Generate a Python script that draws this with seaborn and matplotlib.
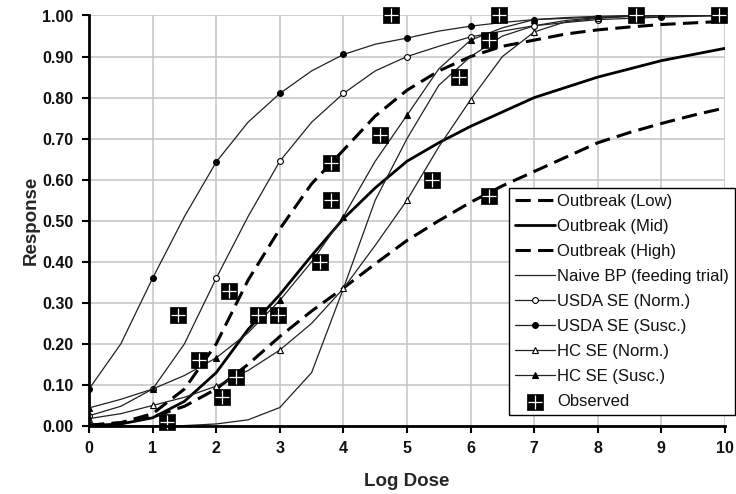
import matplotlib
matplotlib.use("Agg")
import matplotlib.pyplot as plt
import seaborn as sns
import pandas as pd

# ---- data ----
dose = [0, 0.5, 1, 1.5, 2, 2.5, 3, 3.5, 4, 4.5, 5, 5.5, 6, 6.5, 7, 7.5, 8, 8.5, 9, 9.5, 10]

outbreak_low = [0.002, 0.008, 0.03, 0.09, 0.20, 0.355, 0.48, 0.59, 0.672, 0.755, 0.818,
                0.865, 0.90, 0.925, 0.94, 0.955, 0.965, 0.972, 0.978, 0.982, 0.986]
outbreak_mid = [0.001, 0.005, 0.02, 0.06, 0.13, 0.235, 0.32, 0.415, 0.505, 0.58, 0.645,
                0.69, 0.73, 0.765, 0.80, 0.825, 0.85, 0.87, 0.89, 0.905, 0.92]
outbreak_high = [0.002, 0.008, 0.022, 0.048, 0.09, 0.15, 0.218, 0.28, 0.336, 0.395, 0.452,
                 0.50, 0.545, 0.585, 0.62, 0.655, 0.69, 0.715, 0.737, 0.757, 0.775]
naive_bp = [0.0, 0.0, 0.0, 0.001, 0.005, 0.015, 0.045, 0.13, 0.335, 0.55, 0.70,
            0.83, 0.90, 0.95, 0.975, 0.988, 0.995, 0.998, 1.0, 1.0, 1.0]
usda_norm = [0.025, 0.048, 0.09, 0.20, 0.36, 0.51, 0.645, 0.74, 0.81, 0.865, 0.90,
             0.925, 0.948, 0.962, 0.975, 0.983, 0.99, 0.993, 0.996, 0.998, 1.0]
usda_susc = [0.09, 0.20, 0.36, 0.51, 0.643, 0.74, 0.81, 0.865, 0.905, 0.93, 0.945,
             0.962, 0.974, 0.983, 0.99, 0.993, 0.996, 0.998, 0.999, 1.0, 1.0]
hc_norm = [0.018, 0.03, 0.05, 0.07, 0.097, 0.135, 0.185, 0.25, 0.335, 0.44, 0.55,
           0.68, 0.795, 0.90, 0.96, 0.985, 0.993, 0.998, 1.0, 1.0, 1.0]
hc_susc = [0.044, 0.065, 0.09, 0.123, 0.166, 0.227, 0.306, 0.40, 0.51, 0.645, 0.757,
           0.87, 0.94, 0.97, 0.99, 0.995, 0.998, 1.0, 1.0, 1.0, 1.0]

obs_dose = [1.23, 1.40, 1.73, 2.09, 2.20, 2.31, 2.66, 2.97, 3.63, 3.80, 3.80,
            4.58, 4.75, 5.39, 5.82, 6.29, 6.29, 6.45, 8.60, 9.90]
obs_resp = [0.01, 0.27, 0.16, 0.07, 0.33, 0.12, 0.27, 0.27, 0.40, 0.64, 0.55,
            0.71, 1.00, 0.60, 0.85, 0.94, 0.56, 1.00, 1.00, 1.00]

x_ticks = [0, 1, 2, 3, 4, 5, 6, 7, 8, 9, 10]
y_ticks = [0.0, 0.1, 0.2, 0.3, 0.4, 0.5, 0.6, 0.7, 0.8, 0.9, 1.0]

# ---- style ----
sns.set_theme(style="white")
plt.rcParams["font.family"] = ["Liberation Sans", "DejaVu Sans"]

fig = plt.figure(figsize=(7.36, 4.94), dpi=100)
ax = fig.add_axes([89 / 736, 1 - 426 / 494, (725 - 89) / 736, (426 - 15.5) / 494])

dash = (5, 2.4)
series = [
    ("Outbreak (Low)", outbreak_low, dict(color="black", lw=2.2, dashes=dash)),
    ("Outbreak (Mid)", outbreak_mid, dict(color="black", lw=2.0)),
    ("Outbreak (High)", outbreak_high, dict(color="black", lw=2.2, dashes=dash)),
    ("Naive BP (feeding trial)", naive_bp, dict(color="#222222", lw=0.9)),
    ("USDA SE (Norm.)", usda_norm, dict(color="#222222", lw=0.9, marker="o", ms=4.2,
                                         mfc="white", mec="black", mew=0.8, markevery=2)),
    ("USDA SE (Susc.)", usda_susc, dict(color="#222222", lw=0.9, marker="o", ms=4.2,
                                         mfc="black", mec="black", mew=0.8, markevery=2)),
    ("HC SE (Norm.)", hc_norm, dict(color="#222222", lw=0.9, marker="^", ms=4.6,
                                     mfc="white", mec="black", mew=0.8, markevery=2)),
    ("HC SE (Susc.)", hc_susc, dict(color="#222222", lw=0.9, marker="^", ms=4.6,
                                     mfc="black", mec="black", mew=0.8, markevery=2)),
]

for name, vals, kw in series:
    df = pd.DataFrame({"dose": dose, "resp": vals})
    sns.lineplot(data=df, x="dose", y="resp", ax=ax, label=name, sort=True,
                 estimator=None, zorder=3, **kw)

obs_df = pd.DataFrame({"dose": obs_dose, "resp": obs_resp})
sq = ax.scatter(obs_df["dose"], obs_df["resp"], marker="s", s=120, c="black",
                edgecolors="black", linewidths=0.5, zorder=5, clip_on=False)
pl = ax.scatter(obs_df["dose"], obs_df["resp"], marker="+", s=95, c="white",
                linewidths=0.9, zorder=6, clip_on=False)

ax.set_xlim(0, 10)
ax.set_ylim(0, 1)
ax.set_xticks(x_ticks)
ax.set_yticks(y_ticks)
ax.set_xticklabels([str(t) for t in x_ticks], fontsize=11.5, fontweight="bold")
ax.set_yticklabels([f"{t:.2f}" for t in y_ticks], fontsize=11.5, fontweight="bold")
ax.grid(True, color="#c4c4c4", lw=1.1, zorder=0)
ax.set_axisbelow(True)
for s in ["top", "right"]:
    ax.spines[s].set_visible(False)
for s in ["left", "bottom"]:
    ax.spines[s].set_color("black")
    ax.spines[s].set_linewidth(2.0)
    ax.spines[s].set_zorder(7)
ax.tick_params(axis="both", which="major", direction="out", length=5, width=1.5,
               color="black", left=True, bottom=True, pad=6, labelcolor="#111111")
ax.set_xlabel("Log Dose", fontsize=13.5, fontweight="bold", labelpad=12)
ax.set_ylabel("Response", fontsize=13.5, fontweight="bold", labelpad=2)

handles, labels = ax.get_legend_handles_labels()
handles = handles[:8] + [(sq, pl)]
labels = labels[:8] + ["Observed"]
leg = ax.legend(handles, labels, loc="lower right", bbox_to_anchor=(735 / 736, 1 - 415 / 494),
                bbox_transform=fig.transFigure, borderaxespad=0, fontsize=12,
                frameon=True, fancybox=False, edgecolor="black", framealpha=1,
                handlelength=2.4, handletextpad=0.15, labelspacing=0.6, borderpad=0.35)
leg.get_frame().set_linewidth(1.0)
leg.set_zorder(10)
for t in leg.get_texts():
    t.set_color("#111111")

fig.savefig("out.png", dpi=100)
